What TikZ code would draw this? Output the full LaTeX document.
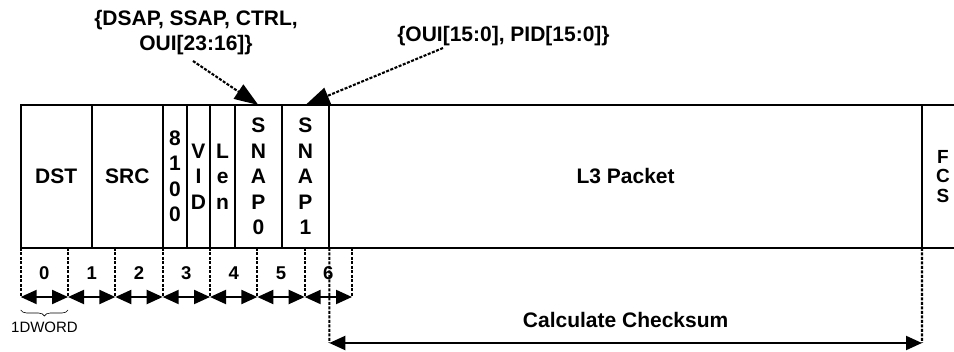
\documentclass[tikz,border=0pt]{standalone}
\usepackage{fontspec}
\setmainfont{Liberation Sans}
\usetikzlibrary{arrows.meta, positioning, calc, decorations.pathreplacing}

\begin{document}
\begin{tikzpicture}[
  x=1pt, y=-1pt,
  font=\fontsize{21}{25.5}\selectfont\bfseries,
  field/.style={
    draw=black,
    line width=2.1pt,
    outer sep=0pt,
    inner sep=0pt,
    minimum height=143pt,
    align=center
  },
  tick/.style={line width=2.1pt, dash pattern=on 3pt off 1.5pt},
  span/.style={{Triangle[length=16pt,width=14pt]}-{Triangle[length=16pt,width=14pt]}, line width=2.1pt},
  callout/.style={-{Triangle[length=24pt,width=17pt]}, line width=2.1pt, dash pattern=on 3pt off 1.5pt},
  num/.style={font=\fontsize{18.5}{20}\selectfont\bfseries},
  note/.style={font=\fontsize{15}{17}\selectfont}
]

\clip (0,0) rectangle (954,352);

% 帧字段：依次右接
\node[field, minimum width=71pt] (dst) at (56.2,176.5) {DST};
\node[field, minimum width=71.3pt, right=0pt of dst] (src) {SRC};
\node[field, minimum width=23.7pt, right=0pt of src] (tpid) {8\\1\\0\\0};
\node[field, minimum width=23.6pt, right=0pt of tpid] (vid) {V\\I\\D};
\node[field, minimum width=24.7pt, right=0pt of vid] (len) {L\\e\\n};
\node[field, minimum width=46.7pt, right=0pt of len] (snap0) {S\\N\\A\\P\\0};
\node[field, minimum width=47.6pt, right=0pt of snap0] (snap1) {S\\N\\A\\P\\1};
\node[field, minimum width=592.7pt, right=0pt of snap1] (l3) {L3 Packet};
\node[field, minimum width=42pt, right=0pt of l3, font=\fontsize{19}{19.5}\selectfont\bfseries] (fcs) {F\\C\\S};

% 上方说明与虚线箭头
\node[align=center] (llc) at (196,32.5) {\{DSAP, SSAP, CTRL,\\OUI[23:16]\}};
\node (oui) at (503.5,36) {\{OUI[15:0], PID[15:0]\}};
\coordinate (llcfoot) at (193,61);
\coordinate (ouifoot) at (443,48);
\draw[callout] (llcfoot) -- (snap0.north);
\draw[callout] (ouifoot) -- (snap1.north);

% DWORD 刻度
\foreach \i in {0,...,7} {
  \coordinate (t\i) at (20.7+47.33*\i,248);
  \coordinate (b\i) at (20.7+47.33*\i,297);
  \draw[tick] (t\i) -- (b\i);
}
\foreach \i [evaluate=\i as \j using int(\i+1)] in {0,...,6} {
  \draw[span] (b\i) -- (b\j);
  \node[num] (n\i) at ($(t\i)!0.5!(t\j)+(0,25)$) {\i};
}

% 1 DWORD 标注
\draw[decorate, decoration={brace, mirror, amplitude=6pt}, line width=0.6pt]
  ([yshift=-13pt]b0) -- ([yshift=-13pt]b1);
\node[note] (dword) at (44.5,327.5) {1DWORD};

% 校验和范围
\coordinate (cs0) at (329.3,343);
\coordinate (cs1) at (922,343);
\draw[tick] (l3.south west) -- (cs0);
\draw[tick] (l3.south east) -- (cs1);
\draw[span] (cs0) -- (cs1);
\node (csum) at ($(cs0)!0.5!(cs1)+(0,-23)$) {Calculate Checksum};

\end{tikzpicture}
\end{document}
